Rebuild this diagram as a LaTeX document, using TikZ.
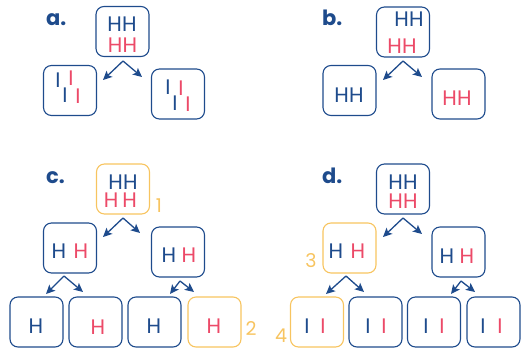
\documentclass[tikz,border=0pt]{standalone}
\usepackage{fontspec}
\setmainfont{Poppins}
\usetikzlibrary{arrows.meta}
\definecolor{cblue}{RGB}{30,75,140}
\definecolor{cred}{RGB}{236,74,104}
\definecolor{corange}{RGB}{247,196,96}
\tikzset{
  box/.style={draw=cblue, line width=1.1pt, rounded corners=8pt, minimum width=53pt, minimum height=50pt, inner sep=0pt},
  obox/.style={box, draw=corange},
  bt/.style={text=cblue, font=\fontsize{21}{21}\selectfont, anchor=base, inner sep=0pt, text height=14.5pt, text depth=0pt},
  rt/.style={bt, text=cred},
  lab/.style={text=cblue, font=\fontsize{21}{21}\selectfont\bfseries, anchor=base west, inner sep=0pt},
  num/.style={text=corange, font=\fontsize{19}{19}\selectfont, anchor=base, inner sep=0pt},
  arr/.style={draw=cblue, line width=1.3pt, -{Stealth[length=9pt,width=8.5pt,inset=2pt]}}
}
\begin{document}
\begin{tikzpicture}[x=1pt,y=-1pt]
\useasboundingbox (0,0) rectangle (521,348);
% ---------- a ----------
\node[lab] (la) at (46,25) {a.};
\node[box] (aT) at (122.5,31.5) {};
\node[box] (aL) at (70,90.5) {};
\node[box] (aR) at (178,94) {};
\node[bt] (aT1) at (122,31) {HH};
\node[rt] (aT2) at (122.5,52) {HH};
\node[bt] (aL1) at (58,87) {I};
\node[rt] (aL2) at (71,85) {I};
\node[bt] (aL3) at (65,102) {I};
\node[rt] (aL4) at (78,103) {I};
\node[bt] (aR1) at (168,94) {I};
\node[rt] (aR2) at (181,95) {I};
\node[bt] (aR3) at (175,110) {I};
\node[rt] (aR4) at (188,111) {I};
\coordinate (aS) at (123,61);
\coordinate (aE1) at (103,80);
\coordinate (aE2) at (142,77);
\draw[arr] (aS) -- (aE1);
\draw[arr] (aS) -- (aE2);
% ---------- b ----------
\node[lab] (lb) at (322,25) {b.};
\node[box] (bT) at (403,32) {};
\node[box] (bL) at (349.5,90.5) {};
\node[box] (bR) at (458.5,94) {};
\node[bt] (bT1) at (409,26) {HH};
\node[rt] (bT2) at (402,53) {HH};
\node[bt] (bL1) at (349,102) {HH};
\node[rt] (bR1) at (457,105) {HH};
\coordinate (bS) at (403,61);
\coordinate (bE1) at (383,80);
\coordinate (bE2) at (422,77);
\draw[arr] (bS) -- (bE1);
\draw[arr] (bS) -- (bE2);
% ---------- c ----------
\node[lab] (lc) at (46,183) {c.};
\node[obox] (cT) at (123,189) {};
\node[box] (cL) at (70,248) {};
\node[box] (cR) at (178,252) {};
\node[box] (cB1) at (36.5,322) {};
\node[box] (cB2) at (95.5,322) {};
\node[box] (cB3) at (154.5,322) {};
\node[obox] (cB4) at (214.5,322) {};
\node[bt] (cT1) at (123,189) {HH};
\node[rt] (cT2) at (120.5,207) {H\hspace{4pt}H};
\node[bt] (cL1) at (59,258) {H};
\node[rt] (cL2) at (81,258) {H};
\node[bt] (cR1) at (169,262) {H};
\node[rt] (cR2) at (189,262) {H};
\node[bt] (cB1t) at (36,333) {H};
\node[rt] (cB2t) at (98,334) {H};
\node[bt] (cB3t) at (154,333) {H};
\node[rt] (cB4t) at (214,333) {H};
\node[num] (n1) at (159,212) {1};
\node[num] (n2) at (251,335) {2};
\coordinate (cS) at (123,218);
\coordinate (cE1) at (103,237);
\coordinate (cE2) at (140,233);
\draw[arr] (cS) -- (cE1);
\draw[arr] (cS) -- (cE2);
\coordinate (cLS) at (64,276);
\coordinate (cLE1) at (46,294);
\coordinate (cLE2) at (83,292);
\draw[arr] (cLS) -- (cLE1);
\draw[arr] (cLS) -- (cLE2);
\coordinate (cRS) at (180,281);
\coordinate (cRE1) at (170,294);
\coordinate (cRE2) at (194,292);
\draw[arr] (cRS) -- (cRE1);
\draw[arr] (cRS) -- (cRE2);
% ---------- d ----------
\node[lab] (ld) at (322,183) {d.};
\node[box] (dT) at (403,189) {};
\node[obox] (dL) at (349.5,248) {};
\node[box] (dR) at (458.5,252) {};
\node[obox] (dB1) at (317,322) {};
\node[box] (dB2) at (375.5,322) {};
\node[box] (dB3) at (434,322) {};
\node[box] (dB4) at (493.5,322) {};
\node[bt] (dT1) at (403,189) {HH};
\node[rt] (dT2) at (403,208) {HH};
\node[bt] (dL1) at (336,258) {H};
\node[rt] (dL2) at (358,258) {H};
\node[bt] (dR1) at (447,263) {H};
\node[rt] (dR2) at (467,263) {H};
\node[bt] (dB1a) at (307,333) {I};
\node[rt] (dB1b) at (323,333) {I};
\node[bt] (dB2a) at (368,333) {I};
\node[rt] (dB2b) at (384,333) {I};
\node[bt] (dB3a) at (426,333) {I};
\node[rt] (dB3b) at (442,333) {I};
\node[bt] (dB4a) at (483,333) {I};
\node[rt] (dB4b) at (500,333) {I};
\node[num] (n3) at (311,267) {3};
\node[num] (n4) at (281,342) {4};
\coordinate (dS) at (403,218);
\coordinate (dE1) at (383,237);
\coordinate (dE2) at (422,234);
\draw[arr] (dS) -- (dE1);
\draw[arr] (dS) -- (dE2);
\coordinate (dLS) at (346,276);
\coordinate (dLE1) at (326,294);
\coordinate (dLE2) at (364,292);
\draw[arr] (dLS) -- (dLE1);
\draw[arr] (dLS) -- (dLE2);
\coordinate (dRS) at (461,281);
\coordinate (dRE1) at (451,294);
\coordinate (dRE2) at (475,292);
\draw[arr] (dRS) -- (dRE1);
\draw[arr] (dRS) -- (dRE2);
\end{tikzpicture}
\end{document}
